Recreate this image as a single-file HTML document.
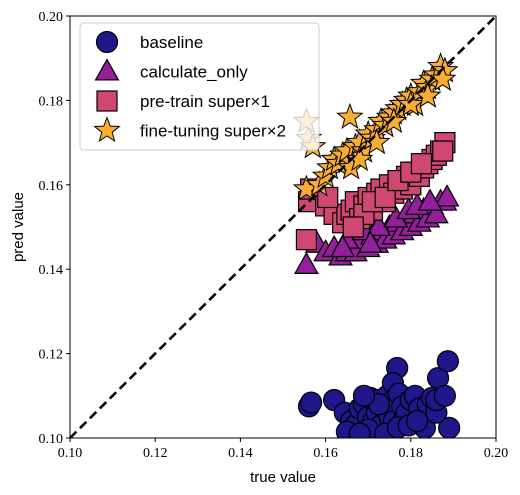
<!DOCTYPE html>
<html><head><meta charset="utf-8"><style>
body{margin:0;background:#fff}
svg{display:block;font-family:"Liberation Sans",sans-serif}
</style></head><body>
<svg id="chart" width="520" height="495"></svg>
<script>
const baselineX=[0.1561,0.1566,0.1620,0.1645,0.1660,0.1670,0.1680,0.1690,0.1700,0.1705,0.1712,0.1720,0.1725,0.1730,0.1738,0.1745,0.1750,0.1755,0.1760,0.1768,0.1758,0.1772,0.1780,0.1785,0.1790,0.1800,0.1810,0.1820,0.1833,0.1864,0.1887,0.1890,0.1840,0.1850,0.1860,0.1700,0.1650,0.1680,0.1740,0.1770,0.1795,0.1725,0.1690,0.1815,0.1860,0.1880];
const baselineY=[0.1075,0.1084,0.1090,0.1060,0.1040,0.1030,0.1070,0.1080,0.1050,0.1095,0.1040,0.1060,0.1090,0.1030,0.1070,0.1100,0.1050,0.1085,0.1040,0.1166,0.1130,0.1105,0.1075,0.1045,0.1060,0.1090,0.1100,0.1070,0.1024,0.1142,0.1182,0.1024,0.1080,0.1095,0.1060,0.1020,0.1015,0.1010,0.1010,0.1025,0.1030,0.1080,0.1100,0.1040,0.1090,0.1100];
const triX=[0.1555,0.1580,0.1600,0.1620,0.1635,0.1650,0.1660,0.1670,0.1685,0.1700,0.1710,0.1720,0.1730,0.1740,0.1750,0.1760,0.1770,0.1780,0.1790,0.1800,0.1810,0.1820,0.1830,0.1840,0.1850,0.1860,0.1870,0.1880,0.1885,0.1650,0.1690,0.1725,0.1765,0.1795,0.1815,0.1845,0.1640,0.1705];
const triY=[0.1410,0.1460,0.1440,0.1450,0.1430,0.1440,0.1460,0.1440,0.1470,0.1450,0.1480,0.1460,0.1490,0.1470,0.1500,0.1480,0.1510,0.1490,0.1520,0.1500,0.1530,0.1510,0.1540,0.1520,0.1550,0.1530,0.1560,0.1560,0.1570,0.1470,0.1490,0.1500,0.1520,0.1540,0.1550,0.1560,0.1450,0.1460];
const sqX=[0.1555,0.1560,0.1565,0.1600,0.1620,0.1640,0.1650,0.1660,0.1670,0.1680,0.1690,0.1700,0.1710,0.1720,0.1730,0.1740,0.1750,0.1760,0.1770,0.1780,0.1790,0.1800,0.1810,0.1820,0.1830,0.1840,0.1850,0.1860,0.1870,0.1880,0.1875,0.1690,0.1710,0.1740,0.1770,0.1800,0.1825,0.1605,0.1665];
const sqY=[0.1470,0.1560,0.1590,0.1550,0.1530,0.1510,0.1530,0.1540,0.1560,0.1520,0.1550,0.1570,0.1540,0.1580,0.1590,0.1560,0.1600,0.1580,0.1610,0.1590,0.1620,0.1600,0.1630,0.1620,0.1640,0.1650,0.1660,0.1670,0.1680,0.1700,0.1680,0.1530,0.1560,0.1570,0.1610,0.1630,0.1650,0.1570,0.1500];
const starX=[0.1555,0.1560,0.1555,0.1570,0.1585,0.1600,0.1610,0.1620,0.1630,0.1640,0.1650,0.1657,0.1660,0.1670,0.1680,0.1690,0.1700,0.1710,0.1720,0.1730,0.1740,0.1750,0.1760,0.1770,0.1780,0.1790,0.1800,0.1810,0.1820,0.1830,0.1840,0.1850,0.1860,0.1870,0.1880,0.1875,0.1680,0.1720,0.1760,0.1800,0.1840];
const starY=[0.1590,0.1710,0.1750,0.1690,0.1600,0.1620,0.1640,0.1660,0.1650,0.1670,0.1680,0.1760,0.1640,0.1690,0.1700,0.1680,0.1720,0.1710,0.1730,0.1750,0.1740,0.1760,0.1770,0.1780,0.1790,0.1800,0.1810,0.1790,0.1820,0.1840,0.1830,0.1850,0.1860,0.1880,0.1870,0.1850,0.1660,0.1700,0.1750,0.1790,0.1810];
const xTicks=[0.10,0.12,0.14,0.16,0.18,0.20];
const yTicks=[0.10,0.12,0.14,0.16,0.18,0.20];

const NS="http://www.w3.org/2000/svg";
const svg=document.getElementById('chart');
const L=70,R=496,T=16,B=438;
const sx=v=>L+(v-0.10)/0.10*(R-L);
const sy=v=>B-(v-0.10)/0.10*(B-T);
function mk(tag,attrs,parent){const e=document.createElementNS(NS,tag);for(const k in attrs)e.setAttribute(k,attrs[k]);(parent||svg).appendChild(e);return e;}
const defs=mk('defs',{});
const cp=mk('clipPath',{id:'pc'},defs);mk('rect',{x:L,y:T,width:R-L,height:B-T},cp);
const plot=mk('g',{'clip-path':'url(#pc)'});


function starPts(cx,cy,r){let p=[];for(let i=0;i<10;i++){const a=-Math.PI/2+i*Math.PI/5;const rr=i%2?r*0.42:r;p.push((cx+rr*Math.cos(a)).toFixed(1)+','+(cy+rr*Math.sin(a)).toFixed(1));}return p.join(' ');}
function triPts(cx,cy,r){return [cx+','+(cy-r),(cx+r*0.95)+','+(cy+r*0.7),(cx-r*0.95)+','+(cy+r*0.7)].join(' ');}
function marker(kind,cx,cy,parent){
  let e;
  if(kind==='circle')e=mk('circle',{cx,cy,r:10.5,fill:'#1f168a',stroke:'#000','stroke-width':1.2},parent);
  else if(kind==='tri')e=mk('polygon',{points:triPts(cx,cy,12),fill:'#93209a',stroke:'#000','stroke-width':1.2},parent);
  else if(kind==='sq')e=mk('rect',{x:cx-10,y:cy-10,width:20,height:20,fill:'#cf4872',stroke:'#000','stroke-width':1.2},parent);
  else e=mk('polygon',{points:starPts(cx,cy,13),fill:'#f9ae33',stroke:'#000','stroke-width':1},parent);
  return e;
}
baselineX.forEach((v,i)=>{const e=marker('circle',sx(v),sy(baselineY[i]),plot);

});
triX.forEach((v,i)=>{const e=marker('tri',sx(v),sy(triY[i]),plot);

});
sqX.forEach((v,i)=>{const e=marker('sq',sx(v),sy(sqY[i]),plot);

});
starX.forEach((v,i)=>{const e=marker('star',sx(v),sy(starY[i]),plot);

});
const diag=mk('line',{x1:sx(0.10),y1:sy(0.10),x2:sx(0.20),y2:sy(0.20),stroke:'#000','stroke-width':2.6,'stroke-dasharray':'9,5'},plot);


const frame=mk('rect',{x:L,y:T,width:R-L,height:B-T,fill:'none',stroke:'#000','stroke-width':1});


xTicks.forEach(t=>{mk('line',{x1:sx(t),x2:sx(t),y1:B,y2:B+4,stroke:'#000'});
const tx=mk('text',{x:sx(t),y:B+19,'text-anchor':'middle','font-size':14,'font-family':'Liberation Serif, serif'});tx.textContent=t.toFixed(2);

});
yTicks.forEach(t=>{mk('line',{x1:L-4,x2:L,y1:sy(t),y2:sy(t),stroke:'#000'});
const tx=mk('text',{x:L-7,y:sy(t)+5,'text-anchor':'end','font-size':14,'font-family':'Liberation Serif, serif'});tx.textContent=t.toFixed(2);

});
const xt=mk('text',{x:(L+R)/2,y:482,'text-anchor':'middle','font-size':15});xt.textContent='true value';


const yt=mk('text',{x:23,y:(T+B)/2,'text-anchor':'middle','font-size':15,transform:'rotate(-90 23 '+((T+B)/2)+')'});yt.textContent='pred value';


const lg=mk('g',{});


mk('rect',{x:80,y:23,width:239,height:127,rx:4,fill:'#fff','fill-opacity':0.8,stroke:'#ccc'},lg);
const labels=['baseline','calculate_only','pre-train super\u00d71','fine-tuning super\u00d72'];
const kinds=['circle','tri','sq','star'];
labels.forEach((s,i)=>{const y=42+i*29.5;const g=mk('g',{},lg);


marker(kinds[i],107,y,g);
const t=mk('text',{x:140,y:y+6,'font-size':17},g);t.textContent=s;});
</script>
</body></html>
